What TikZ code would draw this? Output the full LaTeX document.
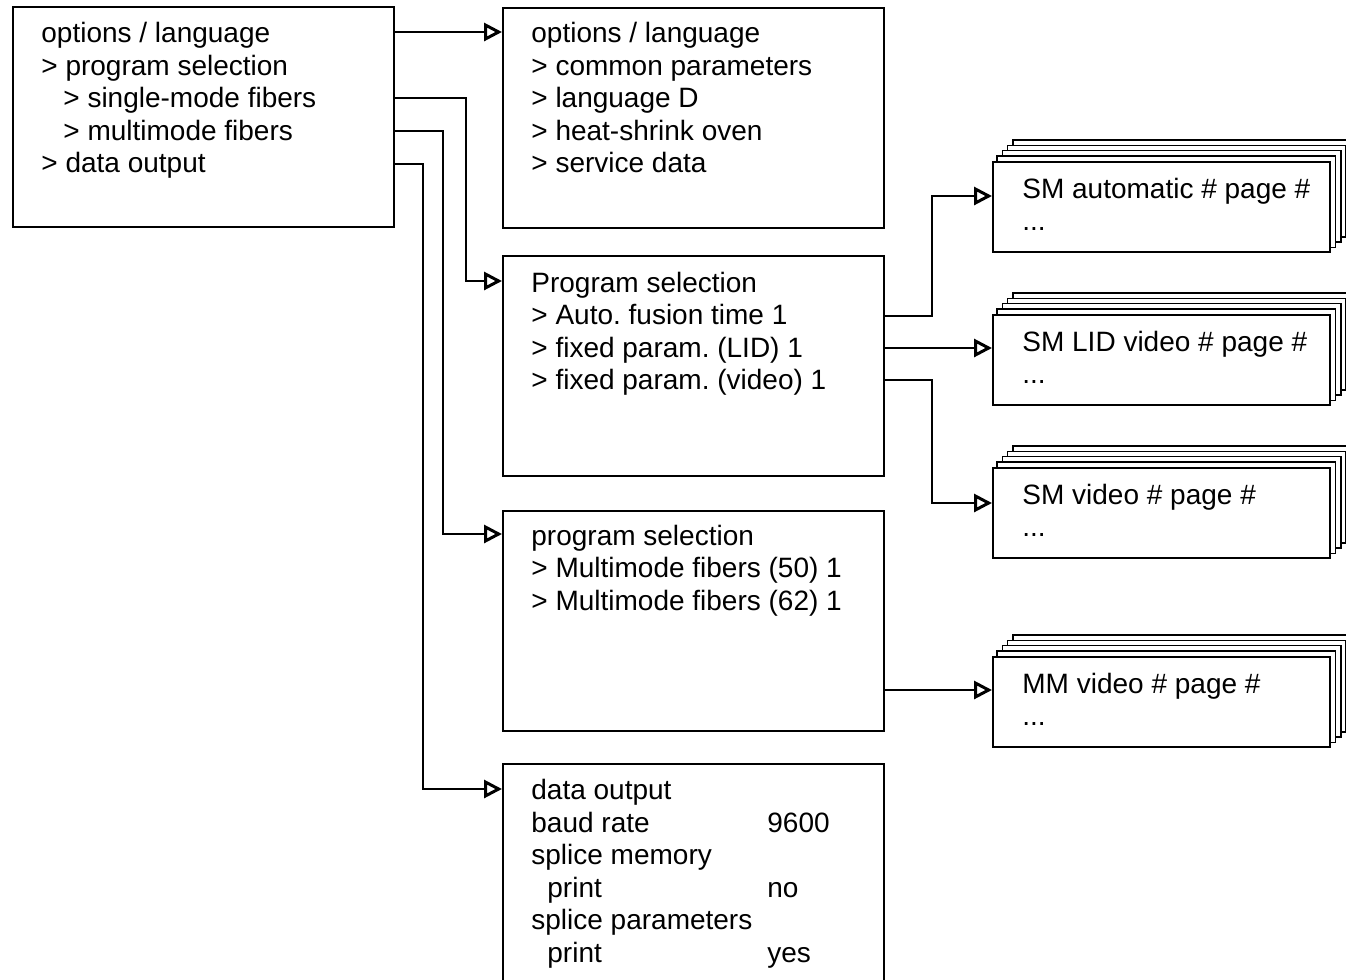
\documentclass[tikz,border=0pt]{standalone}
\usepackage{fontspec}
\setmainfont{Liberation Sans}
\frenchspacing
\usetikzlibrary{arrows.meta}
\pgfdeclarelayer{background}
\pgfsetlayers{background,main}

\tikzset{
  box/.style={draw, line width=0.75pt, anchor=north west, inner sep=0pt,
              minimum width=190.5pt, minimum height=110pt},
  stackbox/.style={draw, fill=white, line width=0.75pt, anchor=north west, inner sep=0pt,
              minimum width=168.5pt, minimum height=45pt},
  txt/.style={anchor=base west, inner sep=0pt, font=\fontsize{14}{16.25}\selectfont},
  arr/.style={line width=0.75pt, -{Triangle[open, length=9pt, width=9pt, line width=1.5pt]}}
}

\begin{document}
\begin{tikzpicture}[x=0.5pt, y=-0.5pt]
\useasboundingbox (0,0) rectangle (1346,980);
% menu boxes
\node[box] (menu)  at (12,6)    {};
\node[box] (opt)   at (502,7)   {};
\node[box] (smsel) at (502,255) {};
\node[box] (mmsel) at (502,510) {};
\node[box] (dout)  at (502,763) {};
\node[txt] (menuT) at ([shift={(29,36.5)}]menu.north west) {\begin{tabular}[t]{@{}l@{}}
  options / language\\
  > program selection\\
  \hspace{11pt}> single-mode fibers\\
  \hspace{11pt}> multimode fibers\\
  > data output\end{tabular}};
\node[txt] (optT) at ([shift={(29,35.5)}]opt.north west) {\begin{tabular}[t]{@{}l@{}}
  options / language\\
  > common parameters\\
  > language D\\
  > heat-shrink oven\\
  > service data\end{tabular}};
\node[txt] (smselT) at ([shift={(29,37)}]smsel.north west) {\begin{tabular}[t]{@{}l@{}}
  Program selection\\
  > Auto. fusion time 1\\
  > fixed param. (LID) 1\\
  > fixed param. (video) 1\end{tabular}};
\node[txt] (mmselT) at ([shift={(29,35)}]mmsel.north west) {\begin{tabular}[t]{@{}l@{}}
  program selection\\
  > Multimode fibers (50) 1\\
  > Multimode fibers (62) 1\end{tabular}};
\node[txt] (doutT) at ([shift={(29,36.5)}]dout.north west) {\begin{tabular}[t]{@{}p{118pt}@{}l@{}}
  data output & \\
  baud rate & 9600\\
  splice memory & \\
  \hspace{8pt}print & no\\
  splice parameters & \\
  \hspace{8pt}print & yes\end{tabular}};
% page stacks
\node[stackbox] (smA) at (992,161) {};
\node[stackbox] (smL) at (992,314) {};
\node[stackbox] (smV) at (992,467) {};
\node[stackbox] (mmV) at (992,656) {};
\begin{pgfonlayer}{background}
\foreach \s in {smA,smL,smV,mmV}
  \foreach \k in {4,3,2,1}
    \draw[line width=0.75pt, fill=white] ([shift={(\k*5.2,-\k*5.2)}]\s.south west) rectangle ([shift={(\k*5.2,-\k*5.2)}]\s.north east);
\end{pgfonlayer}
\node[txt] (smAT) at ([shift={(30,37)}]smA.north west) {\begin{tabular}[t]{@{}l@{}}SM automatic \# page \#\\...\end{tabular}};
\node[txt] (smLT) at ([shift={(30,37)}]smL.north west) {\begin{tabular}[t]{@{}l@{}}SM LID video \# page \#\\...\end{tabular}};
\node[txt] (smVT) at ([shift={(30,37)}]smV.north west) {\begin{tabular}[t]{@{}l@{}}SM video \# page \#\\...\end{tabular}};
\node[txt] (mmVT) at ([shift={(30,37)}]mmV.north west) {\begin{tabular}[t]{@{}l@{}}MM video \# page \#\\...\end{tabular}};
% connectors
\draw[arr] (menu.east |- 0,32) -- (opt.west |- 0,32);
\draw[arr] (menu.east |- 0,98) -| (466,190) |- (smsel.west |- 0,281);
\draw[arr] (menu.east |- 0,131) -| (443,300) |- (mmsel.west |- 0,534);
\draw[arr] (menu.east |- 0,164) -| (423,500) |- (dout.west |- 0,789);
\draw[arr] (smsel.east |- 0,316) -| (932,250) |- (smA.west |- 0,196);
\draw[arr] (smsel.east |- 0,348) -- (smL.west |- 0,348);
\draw[arr] (smsel.east |- 0,380) -| (932,440) |- (smV.west |- 0,503);
\draw[arr] (mmsel.east |- 0,690) -- (mmV.west |- 0,690);
\end{tikzpicture}
\end{document}
